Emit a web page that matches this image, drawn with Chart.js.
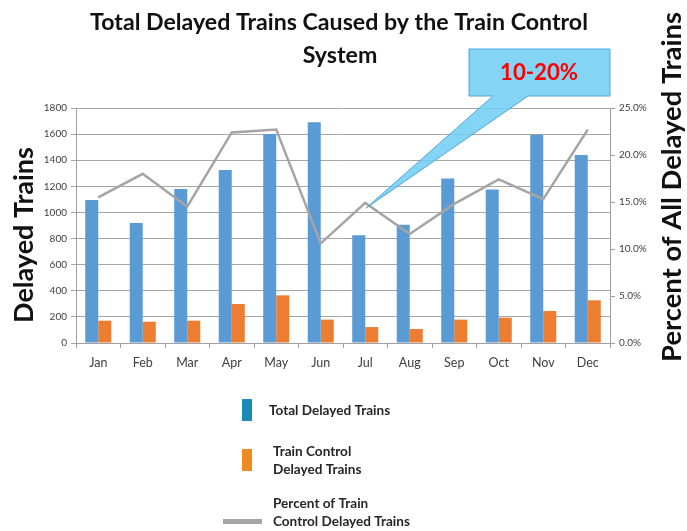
<!DOCTYPE html>
<html>
<head>
<meta charset="utf-8">
<script src="https://cdn.jsdelivr.net/npm/chart.js@4.4.1/dist/chart.umd.min.js"></script>
<style>
html,body{margin:0;padding:0;background:#fff;}
#wrap{position:relative;width:687px;height:531px;}
</style>
</head>
<body>
<div id="wrap"><canvas id="c" width="687" height="531"></canvas></div>
<script>
const months = ['Jan','Feb','Mar','Apr','May','Jun','Jul','Aug','Sep','Oct','Nov','Dec'];
const totalDelayed = [1095, 920, 1180, 1325, 1600, 1690, 825, 905, 1260, 1175, 1595, 1440];
const trainControlDelayed = [171, 163, 171, 299, 365, 179, 122, 107, 179, 194, 245, 327];
const percentTrainControl = [15.5, 18.0, 14.5, 22.4, 22.7, 10.6, 14.9, 11.6, 14.8, 17.4, 15.3, 22.7];
const titleLines = ['Total Delayed Trains Caused by the Train Control', 'System'];
const leftTitle = 'Delayed Trains';
const rightTitle = 'Percent of All Delayed Trains';
const calloutText = '10-20%';
const calloutMonth = 'Jul';
const legendItems = [
  {type:'box', color:'#1B8DB5', lines:['Total Delayed Trains']},
  {type:'box', color:'#EE8A22', lines:['Train Control','Delayed Trains']},
  {type:'line', color:'#A5A5A5', lines:['Percent of Train','Control Delayed Trains']}
];

const FONT = 'Lato, "Open Sans", sans-serif';

function fitFont(ctx, text, weight, target){
  ctx.font = weight + ' 20px ' + FONT;
  const w = ctx.measureText(text).width;
  return weight + ' ' + (20 * target / w).toFixed(2) + 'px ' + FONT;
}

const decor = {
  id:'decor',
  afterDatasetsDraw(chart){
    const ctx = chart.ctx, ca = chart.chartArea;
    const xs = chart.scales.x, y1 = chart.scales.y1;
    const idx = months.indexOf(calloutMonth);
    const tipX = xs.getPixelForValue(idx) + 1;
    const tipY = y1.getPixelForValue(percentTrainControl[idx]) + 5;
    const rx = 469, ry = 49, rw = ca.right - 469, rh = 47;
    ctx.save();
    ctx.fillStyle = 'rgba(110,205,245,0.85)';
    ctx.strokeStyle = '#4FA6D8';
    ctx.lineWidth = 1;
    ctx.beginPath();
    ctx.moveTo(rx, ry);
    ctx.lineTo(rx+rw, ry);
    ctx.lineTo(rx+rw, ry+rh);
    ctx.lineTo(rx+59, ry+rh);
    ctx.lineTo(tipX, tipY);
    ctx.lineTo(rx+24, ry+rh);
    ctx.lineTo(rx, ry+rh);
    ctx.closePath();
    ctx.fill();
    ctx.stroke();
    ctx.fillStyle = '#FF0000';
    ctx.font = fitFont(ctx, calloutText, 'bold', 78);
    ctx.textAlign = 'center';
    ctx.textBaseline = 'middle';
    ctx.fillText(calloutText, 539, ry + 24);
    ctx.restore();
  },
  afterDraw(chart){
    const ctx = chart.ctx;
    ctx.save();
    // title
    ctx.fillStyle = '#111';
    ctx.font = fitFont(ctx, titleLines[0], 'bold', 498);
    ctx.textAlign = 'center';
    ctx.textBaseline = 'alphabetic';
    ctx.fillText(titleLines[0], 339, 30);
    ctx.fillText(titleLines[1], 340, 63);
    // axis titles
    ctx.textBaseline = 'middle';
    ctx.save();
    ctx.font = fitFont(ctx, leftTitle, 'bold', 176);
    ctx.translate(24, 235);
    ctx.rotate(-Math.PI/2);
    ctx.fillText(leftTitle, 0, 0);
    ctx.restore();
    ctx.save();
    ctx.font = fitFont(ctx, rightTitle, 'bold', 350);
    ctx.translate(672, 187);
    ctx.rotate(-Math.PI/2);
    ctx.fillText(rightTitle, 0, 0);
    ctx.restore();
    // legend
    ctx.textAlign = 'left';
    ctx.font = fitFont(ctx, 'Control Delayed Trains', 'bold', 137);
    const rows = [411, 461, 513];
    legendItems.forEach((it, i) => {
      const cy = rows[i];
      ctx.fillStyle = it.color;
      if (it.type === 'box') {
        ctx.fillRect(242, cy - 12, 10, 22);
      } else {
        ctx.fillRect(223, cy + 6, 39, 5);
      }
      ctx.fillStyle = '#262626';
      const lh = 18;
      const startY = cy - (it.lines.length - 1) * lh / 2;
      const tx = it.lines.length === 1 ? 269 : 273;
      it.lines.forEach((t, k) => ctx.fillText(t, tx, startY + k*lh));
    });
    ctx.restore();
  }
};

new Chart(document.getElementById('c'), {
  type:'bar',
  data:{
    labels: months,
    datasets:[
      {type:'line', label:'Percent of Train Control Delayed Trains', data: percentTrainControl, yAxisID:'y1',
       borderColor:'#A5A5A5', borderWidth:2.5, pointRadius:0, tension:0, fill:false, order:0},
      {label:'Total Delayed Trains', data: totalDelayed, yAxisID:'y', backgroundColor:'#5B9BD5',
       categoryPercentage:0.585, barPercentage:1.0, order:1},
      {label:'Train Control Delayed Trains', data: trainControlDelayed, yAxisID:'y', backgroundColor:'#ED7D31',
       categoryPercentage:0.585, barPercentage:1.0, order:1}
    ]
  },
  options:{
    responsive:false,
    animation:false,
    layout:{padding:{top:108, bottom:158, left:0, right:0}},
    plugins:{legend:{display:false}, tooltip:{enabled:false}, title:{display:false}},
    scales:{
      x:{
        afterFit(s){ s.height = 30; },
        grid:{display:true, drawOnChartArea:false, drawTicks:true, tickLength:5, color:'#A0A0A0', offset:true},
        border:{display:true, color:'#A0A0A0'},
        ticks:{color:'#404040', font:{family:FONT, size:12.5}, padding:7}
      },
      y:{
        position:'left',
        min:0, max:1800,
        afterFit(s){ s.width = 76; },
        ticks:{stepSize:200, color:'#404040', font:{family:FONT, size:10}, padding:4,
               callback:(v)=> String(v)},
        grid:{color:'#A6A6A6', lineWidth:1, tickLength:5},
        border:{display:true, color:'#A0A0A0'}
      },
      y1:{
        position:'right',
        min:0, max:25,
        afterFit(s){ s.width = 77; },
        ticks:{stepSize:5, color:'#404040', font:{family:FONT, size:10}, padding:4,
               callback:(v)=> v.toFixed(1) + '%'},
        grid:{drawOnChartArea:false, color:'#A0A0A0', tickLength:5},
        border:{display:true, color:'#A0A0A0'}
      }
    }
  },
  plugins:[decor]
});
</script>
</body>
</html>
